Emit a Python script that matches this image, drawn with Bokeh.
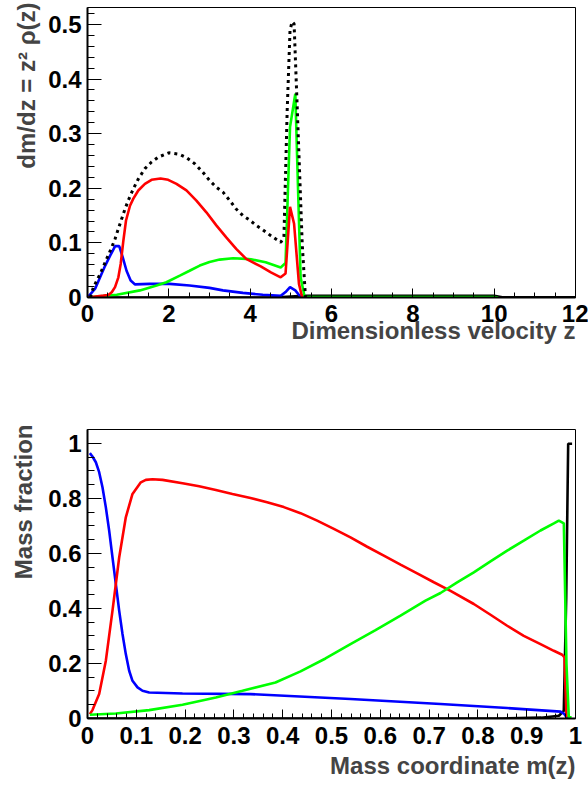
import numpy as np
from bokeh.plotting import figure
from bokeh.layouts import column
from bokeh.models import Range1d, Title, FixedTicker
from bokeh.embed import file_html
from bokeh.resources import INLINE

# ---------------- top panel data: dm/dz vs z ----------------
z_total = [0.07, 0.147, 0.31, 0.473, 0.596, 0.677, 0.759, 0.841, 0.922, 1.004, 1.127, 1.249, 1.412, 1.575, 1.739,
           2.0, 2.27, 2.433, 2.637, 2.841, 3.005, 3.168, 3.331, 3.494, 3.657, 3.821, 3.984, 4.147, 4.31, 4.51,
           4.75, 4.83, 4.91, 4.98, 5.03, 5.08, 5.16, 5.28, 5.36]
v_total = [0.0, 0.019, 0.043, 0.071, 0.092, 0.107, 0.126, 0.144, 0.162, 0.178, 0.199, 0.217, 0.236, 0.248, 0.257,
           0.265, 0.262, 0.256, 0.245, 0.229, 0.214, 0.202, 0.193, 0.178, 0.162, 0.15, 0.142, 0.132, 0.124, 0.113,
           0.101, 0.11, 0.342, 0.489, 0.505, 0.501, 0.342, 0.098, 0.0]

z_red = [0.0, 0.392, 0.514, 0.596, 0.677, 0.759, 0.816, 0.882, 0.947, 1.045, 1.127, 1.249, 1.412, 1.575, 1.796,
         1.984, 2.188, 2.433, 2.678, 2.923, 3.168, 3.412, 3.657, 3.902, 4.02, 4.26, 4.51, 4.75, 4.87, 4.98,
         5.08, 5.2, 5.28]
v_red = [0.0, 0.0035, 0.0047, 0.0096, 0.019, 0.037, 0.0615, 0.104, 0.141, 0.168, 0.181, 0.196, 0.208, 0.2155, 0.218,
         0.2155, 0.208, 0.196, 0.1775, 0.156, 0.132, 0.11, 0.089, 0.0707, 0.066, 0.057, 0.046, 0.037, 0.044, 0.166,
         0.135, 0.025, 0.0]

z_green = [0.0, 0.72, 1.29, 1.698, 1.94, 2.27, 2.51, 2.76, 3.0, 3.25, 3.58, 3.9, 4.02, 4.38, 4.75, 4.87,
           4.98, 5.11, 5.24, 5.34, 10.0, 10.1]
v_green = [0.0, 0.005, 0.013, 0.022, 0.028, 0.04, 0.049, 0.0585, 0.065, 0.0694, 0.072, 0.0707, 0.07, 0.0645, 0.055, 0.063,
           0.312, 0.373, 0.037, 0.001, 0.001, 0.0]

z_blue = [0.0, 0.188, 0.31, 0.433, 0.56, 0.68, 0.78, 0.865, 0.96, 1.061, 1.17, 1.53, 2.02, 2.51, 3.0, 3.33,
          3.82, 4.31, 4.75, 4.87, 4.98, 5.11, 5.24]
v_blue = [0.0, 0.016, 0.037, 0.058, 0.077, 0.094, 0.094, 0.074, 0.049, 0.031, 0.024, 0.025, 0.025, 0.022, 0.0176, 0.013,
          0.0084, 0.005, 0.003, 0.01, 0.019, 0.013, 0.001]

z_other = [0.0, 4.6, 5.3, 10.0, 10.2, 12.0]
v_other = [0.0, 0.0, 0.003, 0.003, 0.0005, 0.0005]

top_xticks = [0, 2, 4, 6, 8, 10, 12]
top_xlabels = ["0", "2", "4", "6", "8", "10", "12"]
top_yticks = [0.0, 0.1, 0.2, 0.3, 0.4, 0.5]
top_ylabels = ["0", "0.1", "0.2", "0.3", "0.4", "0.5"]

# ---------------- bottom panel data: mass fraction vs m ----------------
m_blue = [0.0048, 0.0102, 0.0171, 0.0239, 0.0307, 0.0376, 0.0444, 0.0512, 0.058, 0.0649, 0.0717, 0.0785, 0.0854,
          0.0922, 0.1025, 0.1127, 0.1264, 0.1947, 0.334, 0.5389, 0.7234, 0.86, 0.9693, 0.9761, 0.9829, 0.986]
f_blue = [0.964, 0.952, 0.931, 0.895, 0.84, 0.767, 0.6825, 0.5855, 0.489, 0.392, 0.307, 0.234, 0.1735,
          0.137, 0.113, 0.1007, 0.0945, 0.091, 0.0887, 0.071, 0.0525, 0.038, 0.025, 0.018, 0.002, 0.0]

m_red = [0.0048, 0.0102, 0.0239, 0.0376, 0.0512, 0.0649, 0.0785, 0.0922, 0.1093, 0.1195, 0.1332, 0.1537, 0.1947,
         0.2288, 0.263, 0.297, 0.334, 0.368, 0.4023, 0.4365, 0.4706, 0.5048, 0.5389, 0.5731, 0.6072, 0.6414,
         0.6755, 0.7097, 0.7439, 0.7916, 0.8258, 0.86, 0.894, 0.9283, 0.9556, 0.9727, 0.9775, 0.9815]
f_red = [0.016, 0.0305, 0.0887, 0.21, 0.392, 0.585, 0.731, 0.816, 0.858, 0.867, 0.869, 0.867, 0.855,
         0.8435, 0.83, 0.816, 0.801, 0.786, 0.768, 0.746, 0.719, 0.689, 0.658, 0.624, 0.592, 0.559,
         0.527, 0.495, 0.464, 0.416, 0.377, 0.337, 0.3, 0.27, 0.246, 0.2316, 0.222, 0.004]

m_green = [0.0048, 0.058, 0.1264, 0.1947, 0.263, 0.3176, 0.3852, 0.4365, 0.4877, 0.5389, 0.5902, 0.6414, 0.6926,
           0.7234, 0.7575, 0.7916, 0.8258, 0.86, 0.894, 0.9283, 0.9556, 0.9658, 0.9761, 0.9815, 0.9863, 0.992]
f_green = [0.0135, 0.018, 0.0305, 0.05, 0.0764, 0.1007, 0.131, 0.171, 0.218, 0.2705, 0.321, 0.3735, 0.428,
           0.456, 0.4945, 0.531, 0.571, 0.61, 0.646, 0.683, 0.709, 0.719, 0.709, 0.198, 0.004, 0.004]

m_black = [0.0, 0.85, 0.93, 0.966, 0.976, 0.981, 0.985, 0.993]
f_black = [0.0, 0.0, 0.003, 0.01, 0.028, 0.44, 0.998, 0.998]

bot_xticks = [0.0, 0.1, 0.2, 0.3, 0.4, 0.5, 0.6, 0.7, 0.8, 0.9, 1.0]
bot_xlabels = ["0", "0.1", "0.2", "0.3", "0.4", "0.5", "0.6", "0.7", "0.8", "0.9", "1"]
bot_yticks = [0.0, 0.2, 0.4, 0.6, 0.8, 1.0]
bot_ylabels = ["0", "0.2", "0.4", "0.6", "0.8", "1"]

FONT = "Liberation Sans"
TICK_FS = "24px"
TITLE_FS = "24px"
LW = 2.6


def style(p, xticks, xlabels, xminor, yticks, ylabels, yminor, xstand):
    p.grid.visible = False
    p.outline_line_color = "black"
    p.outline_line_width = 1
    p.background_fill_color = "white"
    p.border_fill_color = "white"
    p.xaxis.ticker = FixedTicker(ticks=xticks, minor_ticks=xminor)
    p.yaxis.ticker = FixedTicker(ticks=yticks, minor_ticks=yminor)
    p.xaxis.major_label_overrides = {t: s for t, s in zip(xticks, xlabels)}
    p.yaxis.major_label_overrides = {t: s for t, s in zip(yticks, ylabels)}
    for ax in (p.xaxis[0], p.yaxis[0]):
        ax.axis_line_width = 2
        ax.axis_line_color = "black"
        ax.major_tick_out = 0
        ax.minor_tick_out = 0
        ax.major_tick_line_color = "black"
        ax.minor_tick_line_color = "black"
        ax.major_tick_line_width = 1
        ax.minor_tick_line_width = 1
        ax.major_label_text_font = FONT
        ax.major_label_text_font_style = "bold"
        ax.major_label_text_font_size = TICK_FS
        ax.major_label_text_color = "black"
    p.xaxis.major_tick_in = 9
    p.xaxis.minor_tick_in = 5
    p.yaxis.major_tick_in = 14
    p.yaxis.minor_tick_in = 7
    p.xaxis.major_label_standoff = xstand
    p.yaxis.major_label_standoff = 6


def title(text, standoff, valign="bottom", offset=0):
    return Title(text=text, align="right", vertical_align=valign, offset=offset, standoff=standoff,
                 text_font=FONT, text_font_style="bold", text_font_size=TITLE_FS)


# ---------------- top figure ----------------
p1 = figure(width=588, height=366, output_backend="svg", toolbar_location=None,
            x_range=Range1d(0, 12), y_range=Range1d(0, 0.531),
            min_border_left=87, min_border_right=13, min_border_top=7, min_border_bottom=69)
style(p1, top_xticks, top_xlabels, list(np.arange(0, 12.001, 0.5)),
      top_yticks, top_ylabels, list(np.arange(0, 0.5301, 0.02)), 7)

p1.line(z_other, v_other, color="black", line_width=LW)
p1.line(z_blue, v_blue, color="#0000ff", line_width=LW)
p1.line(z_green, v_green, color="#00ff00", line_width=LW)
p1.line(z_red, v_red, color="#ff0000", line_width=LW)
p1.line(z_total, v_total, color="black", line_width=3, line_dash="3 4")

p1.add_layout(title("Dimensionless velocity z", -19), "below")
p1.add_layout(title("dm/dz = z\u00b2 \u03c1(z)", 8, "top", -5), "left")

# ---------------- bottom figure ----------------
p2 = figure(width=588, height=419, output_backend="svg", toolbar_location=None,
            x_range=Range1d(0, 1), y_range=Range1d(0, 1.05),
            min_border_left=87, min_border_right=13, min_border_top=63, min_border_bottom=67)
style(p2, bot_xticks, bot_xlabels, list(np.arange(0, 1.0001, 0.02)),
      bot_yticks, bot_ylabels, list(np.arange(0, 1.0501, 0.05)), 8)

p2.line(m_black, f_black, color="black", line_width=LW)
p2.line(m_blue, f_blue, color="#0000ff", line_width=LW)
p2.line(m_red, f_red, color="#ff0000", line_width=LW)
p2.line(m_green, f_green, color="#00ff00", line_width=LW)

p2.add_layout(title("Mass coordinate m(z)", 6), "below")
p2.add_layout(title("Mass fraction", 13, "top", -5), "left")

layout = column(p1, p2)
open("out.html", "w").write(file_html(layout, INLINE))
